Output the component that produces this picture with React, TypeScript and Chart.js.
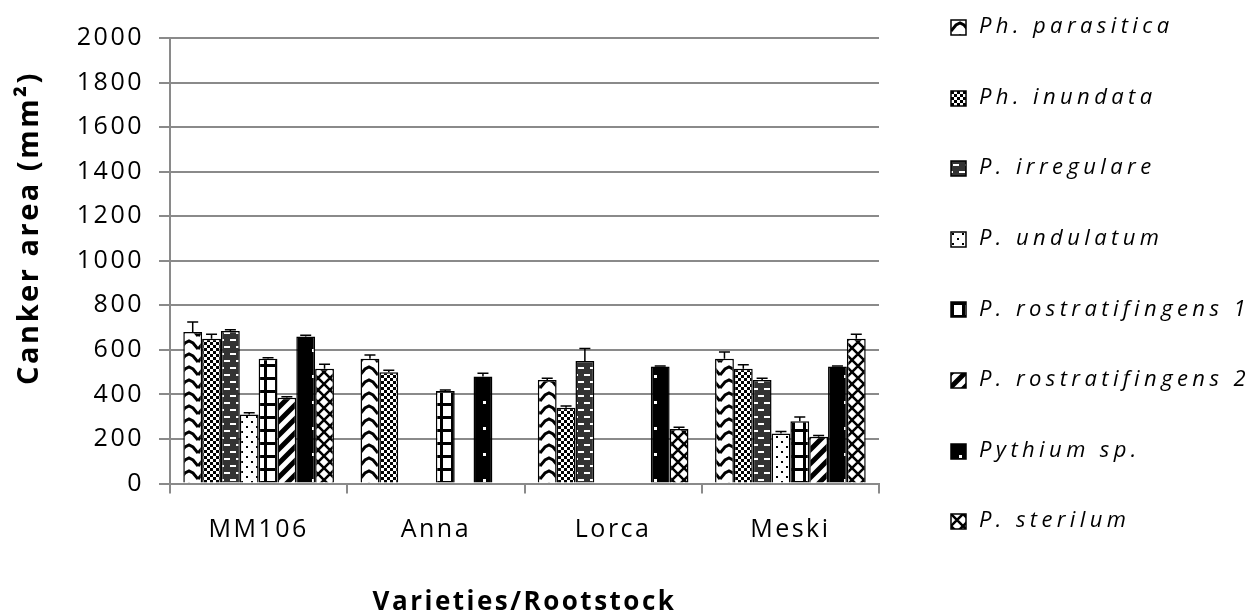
import React, { useEffect, useRef } from 'react';
import { Chart, registerables } from 'chart.js';

Chart.register(...registerables);

const categories = ['MM106', 'Anna', 'Lorca', 'Meski'];
const seriesNames = [
  'Ph. parasitica',
  'Ph. inundata',
  'P. irregulare',
  'P. undulatum',
  'P. rostratifingens 1',
  'P. rostratifingens 2',
  'Pythium sp.',
  'P. sterilum',
];
const parasitica = [680, 560, 465, 560];
const parasiticaErr = [45, 17, 8, 30];
const inundata = [650, 500, 340, 515];
const inundataErr = [20, 8, 8, 18];
const irregulare = [685, 0, 550, 465];
const irregulareErr = [5, 0, 56, 8];
const undulatum = [310, 0, 0, 225];
const undulatumErr = [8, 0, 0, 8];
const rostra1 = [560, 415, 0, 280];
const rostra1Err = [5, 5, 0, 18];
const rostra2 = [385, 0, 0, 210];
const rostra2Err = [5, 0, 0, 5];
const pythium = [660, 480, 525, 525];
const pythiumErr = [5, 15, 3, 3];
const sterilum = [515, 0, 245, 650];
const sterilumErr = [20, 0, 8, 20];
const yTickValues = [0, 200, 400, 600, 800, 1000, 1200, 1400, 1600, 1800, 2000];
const xTitle = 'Varieties/Rootstock';
const yTitle = 'Canker area (mm²)';

const seriesValues = [parasitica, inundata, irregulare, undulatum, rostra1, rostra2, pythium, sterilum];
const seriesErrors = [parasiticaErr, inundataErr, irregulareErr, undulatumErr, rostra1Err, rostra2Err, pythiumErr, sterilumErr];

const GRID = '#8a8a8a';

function makePattern(w: number, h: number, bg: string, draw: (c: CanvasRenderingContext2D) => void) {
  const cv = document.createElement('canvas');
  cv.width = w;
  cv.height = h;
  const c = cv.getContext('2d') as CanvasRenderingContext2D;
  c.fillStyle = bg;
  c.fillRect(0, 0, w, h);
  c.fillStyle = '#000';
  c.strokeStyle = '#000';
  draw(c);
  return c.createPattern(cv, 'repeat') as CanvasPattern;
}

function buildPatterns() {
  return [
    // wave / chevron
    makePattern(18, 13, '#fff', (c) => {
      c.lineWidth = 3;
      c.beginPath();
      c.moveTo(0, 11);
      c.lineTo(5, 5);
      c.lineTo(9, 3);
      c.lineTo(13, 5);
      c.lineTo(18, 11);
      c.stroke();
    }),
    // checker
    makePattern(6, 6, '#fff', (c) => {
      c.fillRect(0, 0, 3, 3);
      c.fillRect(3, 3, 3, 3);
    }),
    // dark with white dashes
    makePattern(12, 14, '#333', (c) => {
      c.fillStyle = '#fff';
      c.fillRect(2, 3, 6, 2);
      c.fillRect(8, 10, 4, 2);
      c.fillRect(0, 10, 2, 2);
    }),
    // sparse dots
    makePattern(10, 10, '#fff', (c) => {
      c.fillRect(1, 1, 2, 2);
      c.fillRect(6, 6, 2, 2);
    }),
    // brick grid
    makePattern(11, 13, '#fff', (c) => {
      c.fillRect(0, 0, 11, 3);
      c.fillRect(0, 0, 3, 13);
    }),
    // wide upward diagonal
    makePattern(14, 14, '#fff', (c) => {
      c.lineWidth = 5;
      c.beginPath();
      c.moveTo(-7, 7); c.lineTo(7, -7);
      c.moveTo(0, 14); c.lineTo(14, 0);
      c.moveTo(7, 21); c.lineTo(21, 7);
      c.stroke();
    }),
    // black with white dots
    makePattern(19, 26, '#000', (c) => {
      c.fillStyle = '#fff';
      c.fillRect(8, 11, 3, 3);
    }),
    // diagonal lattice
    makePattern(12, 12, '#fff', (c) => {
      c.lineWidth = 2.5;
      c.beginPath();
      c.moveTo(0, 0); c.lineTo(12, 12);
      c.moveTo(12, 0); c.lineTo(0, 12);
      c.stroke();
    }),
  ];
}

const spacingPlugin = {
  id: 'letterSpacing',
  beforeDraw(chart: any) {
    (chart.ctx as any).letterSpacing = '2.5px';
  },
  afterDraw(chart: any) {
    (chart.ctx as any).letterSpacing = '0px';
  },
};

const errorBarPlugin = {
  id: 'errorBars',
  afterDatasetsDraw(chart: any) {
    const ctx = chart.ctx as CanvasRenderingContext2D;
    const yScale = chart.scales.y;
    ctx.save();
    ctx.strokeStyle = '#000';
    ctx.lineWidth = 1.5;
    chart.data.datasets.forEach((ds: any, di: number) => {
      const meta = chart.getDatasetMeta(di);
      const errs = seriesErrors[di];
      meta.data.forEach((el: any, i: number) => {
        const v = ds.data[i];
        if (!v) return;
        const e = errs[i] || 0;
        const yTop = yScale.getPixelForValue(v);
        const yErr = yScale.getPixelForValue(v + e);
        ctx.beginPath();
        ctx.moveTo(el.x, yTop);
        ctx.lineTo(el.x, yErr);
        ctx.moveTo(el.x - 5.5, yErr);
        ctx.lineTo(el.x + 5.5, yErr);
        ctx.stroke();
      });
    });
    ctx.restore();
  },
};

const legendPlugin = {
  id: 'customLegend',
  afterDraw(chart: any) {
    const ctx = chart.ctx as CanvasRenderingContext2D;
    ctx.save();
    const startY = 27;
    const step = 70.6;
    chart.data.datasets.forEach((ds: any, i: number) => {
      const y = startY + i * step;
      ctx.save();
      ctx.translate(951, Math.round(y - 7));
      ctx.fillStyle = ds.backgroundColor;
      ctx.fillRect(0, 0, 15, 15);
      ctx.strokeStyle = '#000';
      ctx.lineWidth = 1.5;
      ctx.strokeRect(0, 0, 15, 15);
      ctx.restore();
      ctx.fillStyle = '#000';
      ctx.font = 'italic 22px "Open Sans"';
      (ctx as any).letterSpacing = '4.4px';
      ctx.textBaseline = 'middle';
      ctx.textAlign = 'left';
      ctx.fillText(ds.label, 979, y);
    });
    // y axis title
    ctx.translate(30, 228);
    ctx.rotate(-Math.PI / 2);
    ctx.font = 'bold 29px "Open Sans"';
    (ctx as any).letterSpacing = '2.5px';
    ctx.textAlign = 'center';
    ctx.textBaseline = 'middle';
    ctx.fillStyle = '#000';
    ctx.fillText(yTitle, 0, 0);
    ctx.restore();
  },
};

export default function App() {
  const ref = useRef<HTMLCanvasElement | null>(null);

  useEffect(() => {
    if (!ref.current) return;
    const patterns = buildPatterns();
    const chart = new Chart(ref.current, {
      type: 'bar',
      data: {
        labels: categories,
        datasets: seriesNames.map((name, i) => ({
          label: name,
          data: seriesValues[i],
          backgroundColor: patterns[i] as any,
          borderColor: '#000',
          borderWidth: 1.5,
          categoryPercentage: 0.85,
          barPercentage: 1.0,
        })),
      },
      options: {
        responsive: false,
        animation: false,
        events: [],
        layout: { padding: { left: 0, right: 368, top: 38, bottom: 0 } },
        plugins: {
          legend: { display: false },
          tooltip: { enabled: false },
        },
        scales: {
          x: {
            grid: {
              display: true,
              drawOnChartArea: false,
              drawTicks: true,
              tickLength: 10,
              color: GRID,
              lineWidth: 2,
            },
            border: { color: GRID, width: 2 },
            ticks: {
              color: '#000',
              font: { family: '"Open Sans"', size: 25 },
              padding: 21,
            },
            title: {
              display: true,
              text: xTitle,
              color: '#000',
              font: { family: '"Open Sans"', size: 26, weight: 'bold', lineHeight: 1.0 },
              padding: { top: 0, bottom: 0 },
            },
            afterFit(scale: any) {
              scale.height = 132.5;
            },
          },
          y: {
            min: 0,
            max: 2000,
            afterBuildTicks(scale: any) {
              scale.ticks = yTickValues.map((v) => ({ value: v }));
            },
            grid: {
              color: GRID,
              lineWidth: 2,
              tickLength: 11,
            },
            border: { color: GRID, width: 2 },
            ticks: {
              color: '#000',
              font: { family: '"Open Sans"', size: 25 },
              padding: 15,
              callback: (v: any) => String(v),
            },
            afterFit(scale: any) {
              scale.width = 170;
            },
          },
        },
      },
      plugins: [spacingPlugin, errorBarPlugin, legendPlugin],
    });
    return () => chart.destroy();
  }, []);

  return (
    <div style={{ position: 'absolute', left: 0, top: 0, width: 1247, height: 616, background: '#fff' }}>
      <canvas ref={ref} width={1247} height={616} />
    </div>
  );
}
